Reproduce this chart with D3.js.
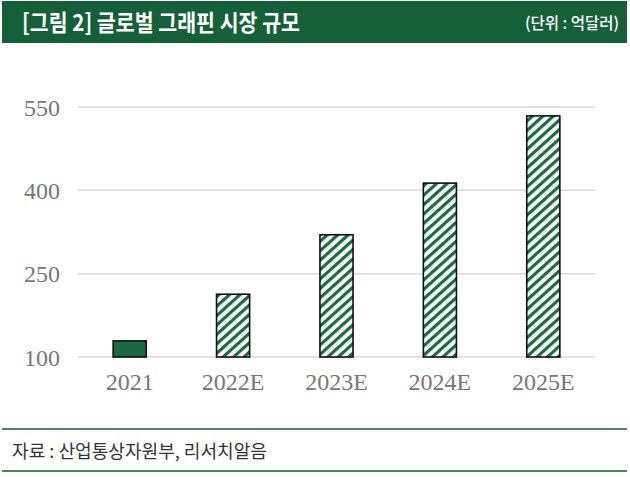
<!DOCTYPE html>
<html><head><meta charset="utf-8">
<script src="https://cdn.jsdelivr.net/npm/d3@7"></script>
<style>
html,body{margin:0;padding:0;background:#fff;}
svg{display:block;}
</style></head>
<body>
<script>
const categories = ["2021","2022E","2023E","2024E","2025E"];
const values = [129, 213, 320, 413, 534];
const estimated = [false, true, true, true, true];
const yTicks = [100, 250, 400, 550];
const titleText = "[그림 2] 글로벌 그래핀 시장 규모";
const unitText = "(단위 : 억달러)";
const sourceText = "자료 : 산업통상자원부, 리서치알음";

const W = 630, H = 477;
const green = "#155f39";
const svg = d3.select("body").append("svg").attr("width", W).attr("height", H);

const defs = svg.append("defs");
const P = 7;
const pat = defs.append("pattern").attr("id","hatch").attr("patternUnits","userSpaceOnUse")
  .attr("width",P).attr("height",P).attr("patternTransform","rotate(48)");
pat.append("rect").attr("width",P).attr("height",P).attr("fill","#fff");
pat.append("line").attr("x1",1.6).attr("y1",0).attr("x2",1.6).attr("y2",P)
  .attr("stroke","#1b6a41").attr("stroke-width",3.2);

// header
svg.append("rect").attr("x",2).attr("y",1).attr("width",625).attr("height",42).attr("fill",green);
svg.append("text").attr("x",22).attr("y",31).attr("fill","#fff")
  .attr("font-family","'Noto Sans CJK KR'").attr("font-weight","bold").attr("font-size",23)
  .attr("textLength",278).attr("lengthAdjust","spacingAndGlyphs")
  .text(titleText);
svg.append("text").attr("x",619).attr("y",29).attr("fill","#fff").attr("text-anchor","end")
  .attr("font-family","'Noto Sans CJK KR'").attr("font-weight","500").attr("font-size",16)
  .attr("textLength",94).attr("lengthAdjust","spacingAndGlyphs")
  .text(unitText);

const x = d3.scaleBand().domain(categories).range([78, 595]).paddingInner(0.68).paddingOuter(0.34);
const y = d3.scaleLinear().domain([100, 550]).range([357, 107]);

// gridlines
const grid = svg.append("g");
grid.selectAll("line").data(yTicks).join("line")
  .attr("x1",78).attr("x2",595).attr("y1",d=>y(d)).attr("y2",d=>y(d))
  .attr("stroke","#d9d9d9").attr("stroke-width",1.5);

// y axis labels
const yAxis = svg.append("g").attr("transform","translate(60,0)")
  .call(d3.axisLeft(y).tickValues(yTicks).tickSize(0).tickPadding(0));
yAxis.select(".domain").remove();
yAxis.selectAll("text").attr("font-family","'Liberation Serif'").attr("font-size",24)
  .attr("fill","#777").attr("dy","0.34em");

// x axis labels
const xAxis = svg.append("g").attr("transform","translate(0,357)")
  .call(d3.axisBottom(x).tickSize(0).tickPadding(0));
xAxis.select(".domain").remove();
xAxis.selectAll("text").attr("font-family","'Liberation Serif'").attr("font-size",24)
  .attr("fill","#777").attr("dy","0").attr("y",33);

// bars
svg.append("g").selectAll("rect").data(categories).join("rect")
  .attr("x",d=>x(d)).attr("width",x.bandwidth())
  .attr("y",(d,i)=>y(values[i])).attr("height",(d,i)=>y(100)-y(values[i]))
  .attr("fill",(d,i)=>estimated[i] ? "url(#hatch)" : "#1b6a41")
  .attr("stroke","#111").attr("stroke-width",1.6);

// footer
svg.append("line").attr("x1",2).attr("x2",627).attr("y1",429).attr("y2",429).attr("stroke","#4a8865").attr("stroke-width",2);
svg.append("line").attr("x1",2).attr("x2",627).attr("y1",471).attr("y2",471).attr("stroke","#4a8865").attr("stroke-width",2);
svg.append("text").attr("x",12).attr("y",458).attr("fill","#333")
  .attr("font-family","'Noto Sans CJK KR'").attr("font-size",18)
  .attr("textLength",255).attr("lengthAdjust","spacingAndGlyphs")
  .text(sourceText);
</script>
</body></html>
